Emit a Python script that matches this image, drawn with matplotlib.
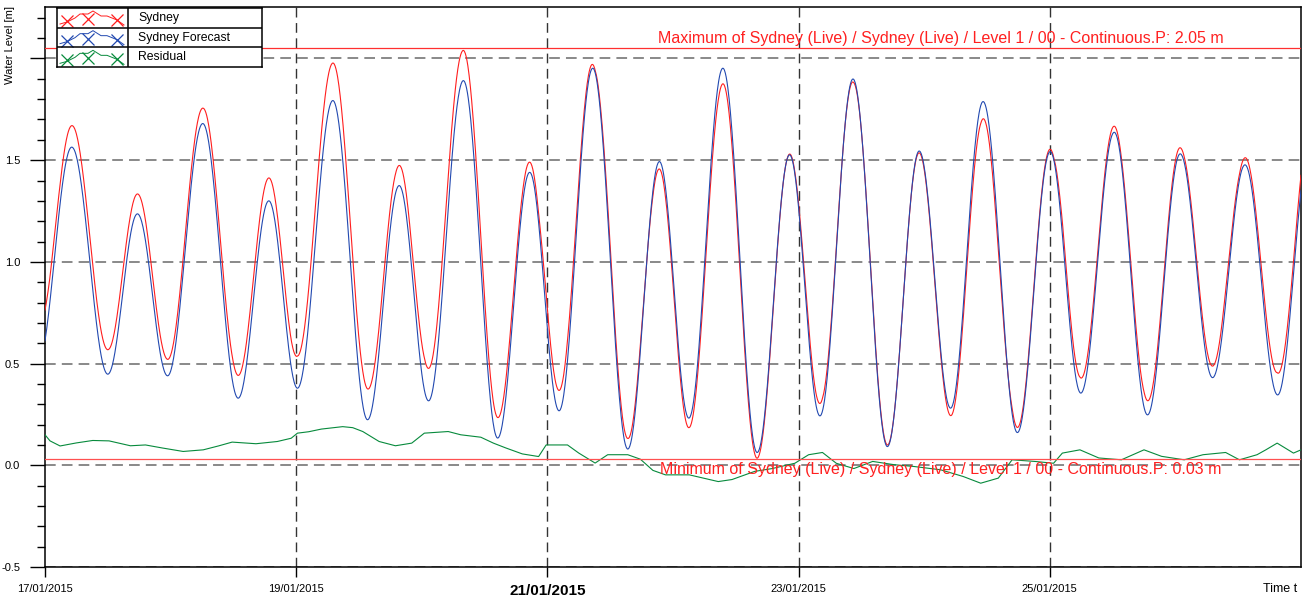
import numpy as np
import matplotlib.pyplot as plt
from matplotlib.ticker import MultipleLocator

plt.rcParams['font.family'] = ['Liberation Sans', 'DejaVu Sans']
plt.rcParams['axes.unicode_minus'] = False

# time in days since 17/01/2015 00:00
# high / low waters of the forecast (first and last lie just outside)
forecast_t = [-0.06, 0.213, 0.50, 0.736, 0.976, 1.256, 1.538, 1.782, 2.01, 2.292,
              2.568, 2.82, 3.054, 3.331, 3.604, 3.859, 4.093, 4.361, 4.64, 4.892,
              5.126, 5.397, 5.67, 5.928, 6.17, 6.433, 6.707, 6.96, 7.21, 7.469,
              7.742, 8.003, 8.247, 8.513, 8.778, 9.038, 9.296, 9.554, 9.814, 10.07]
forecast_v = [0.49, 1.564, 0.448, 1.236, 0.44, 1.68, 0.33, 1.30, 0.379, 1.793,
              0.224, 1.375, 0.317, 1.891, 0.134, 1.44, 0.268, 1.952, 0.08, 1.493,
              0.232, 1.952, 0.063, 1.526, 0.243, 1.899, 0.092, 1.545, 0.281, 1.788,
              0.161, 1.542, 0.355, 1.637, 0.248, 1.531, 0.431, 1.477, 0.346, 1.56]

# residual (live - forecast)
resid_t = [0.00, 0.04, 0.12, 0.25, 0.38, 0.51, 0.68, 0.80, 0.935, 1.10,
           1.26, 1.38, 1.49, 1.68, 1.85, 1.96, 2.01, 2.10, 2.20, 2.37,
           2.45, 2.53, 2.66, 2.79, 2.92, 3.02, 3.21, 3.31, 3.47, 3.57,
           3.67, 3.80, 3.93, 3.99, 4.16, 4.25, 4.38, 4.48, 4.64, 4.74,
           4.84, 4.94, 5.13, 5.36, 5.47, 5.65, 5.79, 5.97, 6.08, 6.19,
           6.30, 6.44, 6.59, 6.76, 6.92, 7.13, 7.31, 7.45, 7.59, 7.70,
           7.88, 8.03, 8.10, 8.24, 8.39, 8.57, 8.75, 8.89, 9.07, 9.22,
           9.40, 9.51, 9.65, 9.72, 9.81, 9.94, 10.0]
resid_v = [0.15, 0.12, 0.095, 0.11, 0.122, 0.12, 0.096, 0.10, 0.085, 0.068,
           0.076, 0.095, 0.114, 0.106, 0.117, 0.133, 0.158, 0.165, 0.178, 0.19,
           0.185, 0.166, 0.117, 0.096, 0.109, 0.158, 0.166, 0.15, 0.138, 0.109,
           0.085, 0.056, 0.043, 0.10, 0.10, 0.06, 0.011, 0.052, 0.052, 0.03,
           -0.025, -0.047, -0.047, -0.08, -0.07, -0.03, -0.016, 0.01, 0.052, 0.063,
           0.01, -0.016, 0.019, 0.003, -0.006, -0.022, -0.055, -0.088, -0.063, 0.027,
           0.019, 0.01, 0.06, 0.076, 0.036, 0.027, 0.076, 0.044, 0.027, 0.052,
           0.063, 0.027, 0.052, 0.076, 0.109, 0.06, 0.076]

date_ticks = [0, 2, 4, 6, 8]
date_labels = ['17/01/2015', '19/01/2015', '21/01/2015', '23/01/2015', '25/01/2015']
max_level = 2.05
min_level = 0.03
series_names = ['Sydney', 'Sydney Forecast', 'Residual']
series_colors = ['#ff1e1e', '#2249b0', '#078a3c']


def tide_curve(t, knots_t, knots_v):
    # half-cosine between consecutive high and low waters
    knots_t = np.asarray(knots_t)
    knots_v = np.asarray(knots_v)
    i = np.clip(np.searchsorted(knots_t, t) - 1, 0, len(knots_t) - 2)
    frac = (t - knots_t[i]) / (knots_t[i + 1] - knots_t[i])
    w = (1 - np.cos(np.pi * frac)) / 2
    return knots_v[i] + (knots_v[i + 1] - knots_v[i]) * w


t = np.linspace(0, 10, 3001)
forecast = tide_curve(t, forecast_t, forecast_v)
live = forecast + np.interp(t, resid_t, resid_v)

W, H = 1309, 601
fig = plt.figure(figsize=(W / 100, H / 100), dpi=100)
ax = fig.add_axes([45 / W, 1 - 567 / H, 1256 / W, 560 / H])

ax.plot(t, live, color=series_colors[0], lw=0.8, zorder=3)
ax.plot(t, forecast, color=series_colors[1], lw=0.8, zorder=4)
ax.plot(resid_t, resid_v, color=series_colors[2], lw=0.8, zorder=5)

ax.axhline(max_level, color='#ff3030', lw=0.9, zorder=6)
ax.axhline(min_level, color='#ff5050', lw=0.9, zorder=6)
ax.annotate('Maximum of Sydney (Live) / Sydney (Live) / Level 1 / 00 - Continuous.P: %.2f m' % max_level,
            xy=(7.13, max_level), xytext=(0, 2), textcoords='offset points',
            ha='center', va='bottom', color='#ff2020', fontsize=11.5, zorder=7)
ax.annotate('Minimum of Sydney (Live) / Sydney (Live) / Level 1 / 00 - Continuous.P: %.2f m' % min_level,
            xy=(7.13, min_level), xytext=(0, -2), textcoords='offset points',
            ha='center', va='top', color='#ff2020', fontsize=11.5, zorder=7)

ax.set_xlim(0, 10)
ax.set_ylim(-0.5, 2.253)

ax.set_xticks(date_ticks)
ax.set_xticklabels(date_labels)
ax.set_yticks([-0.5, 0.0, 0.5, 1.0, 1.5, 2.0])
ax.set_yticklabels(['-0.5', '0.0', '0.5', '1.0', '1.5', ''])
ax.yaxis.set_minor_locator(MultipleLocator(0.1))

ax.tick_params(axis='y', which='major', length=11, width=1, pad=7, labelsize=8)
ax.tick_params(axis='y', which='minor', length=6, width=1)
ax.tick_params(axis='x', which='major', length=7, width=1, pad=5, labelsize=8)
big = ax.get_xticklabels()[2]
big.set_fontsize(11)
big.set_fontweight('bold')

for y in [-0.5, 0.0, 0.5, 1.0, 1.5, 2.0]:
    ax.axhline(y, color='#6a6a6a', lw=1.1, ls=(0, (7, 4)), zorder=1)
for x in date_ticks[1:]:
    ax.axvline(x, color='#333333', lw=1.0, ls=(0, (7, 4)), zorder=1)

for s in ax.spines.values():
    s.set_linewidth(1.1)
    s.set_color('black')

fig.text(10 / W, 1 - 6 / H, 'Water Level [m]', rotation=90, ha='center', va='top', fontsize=8)
fig.text(1280 / W, 1 - 589 / H, 'Time t', ha='center', va='center', fontsize=9)

# legend drawn as a small table
lg = fig.add_axes([57 / W, 1 - 67 / H, 205 / W, 59 / H])
lg.set_xlim(0, 205)
lg.set_ylim(59, 0)
lg.set_xticks([])
lg.set_yticks([])
for s in lg.spines.values():
    s.set_linewidth(1.1)
lg.axvline(71, color='black', lw=1.1)
row_h = 59 / 3
sym_x = [3, 10, 18, 23, 31, 36, 44, 50, 60, 67]
sym_y = [16, 14, 10, 6, 6, 3, 8, 8, 12, 17]
for k, name in enumerate(series_names):
    top = k * row_h
    if k > 0:
        lg.axhline(top, color='black', lw=1.1)
    lg.plot(sym_x, [top + v for v in sym_y], color=series_colors[k], lw=0.7)
    lg.plot([10, 31, 60], [top + 13, top + 11, top + 12], ls='none', marker='x',
            ms=9, mew=0.9, color=series_colors[k])
    lg.text(81, top + row_h / 2, name, ha='left', va='center', fontsize=8.8)

fig.savefig('out.png', dpi=100)
